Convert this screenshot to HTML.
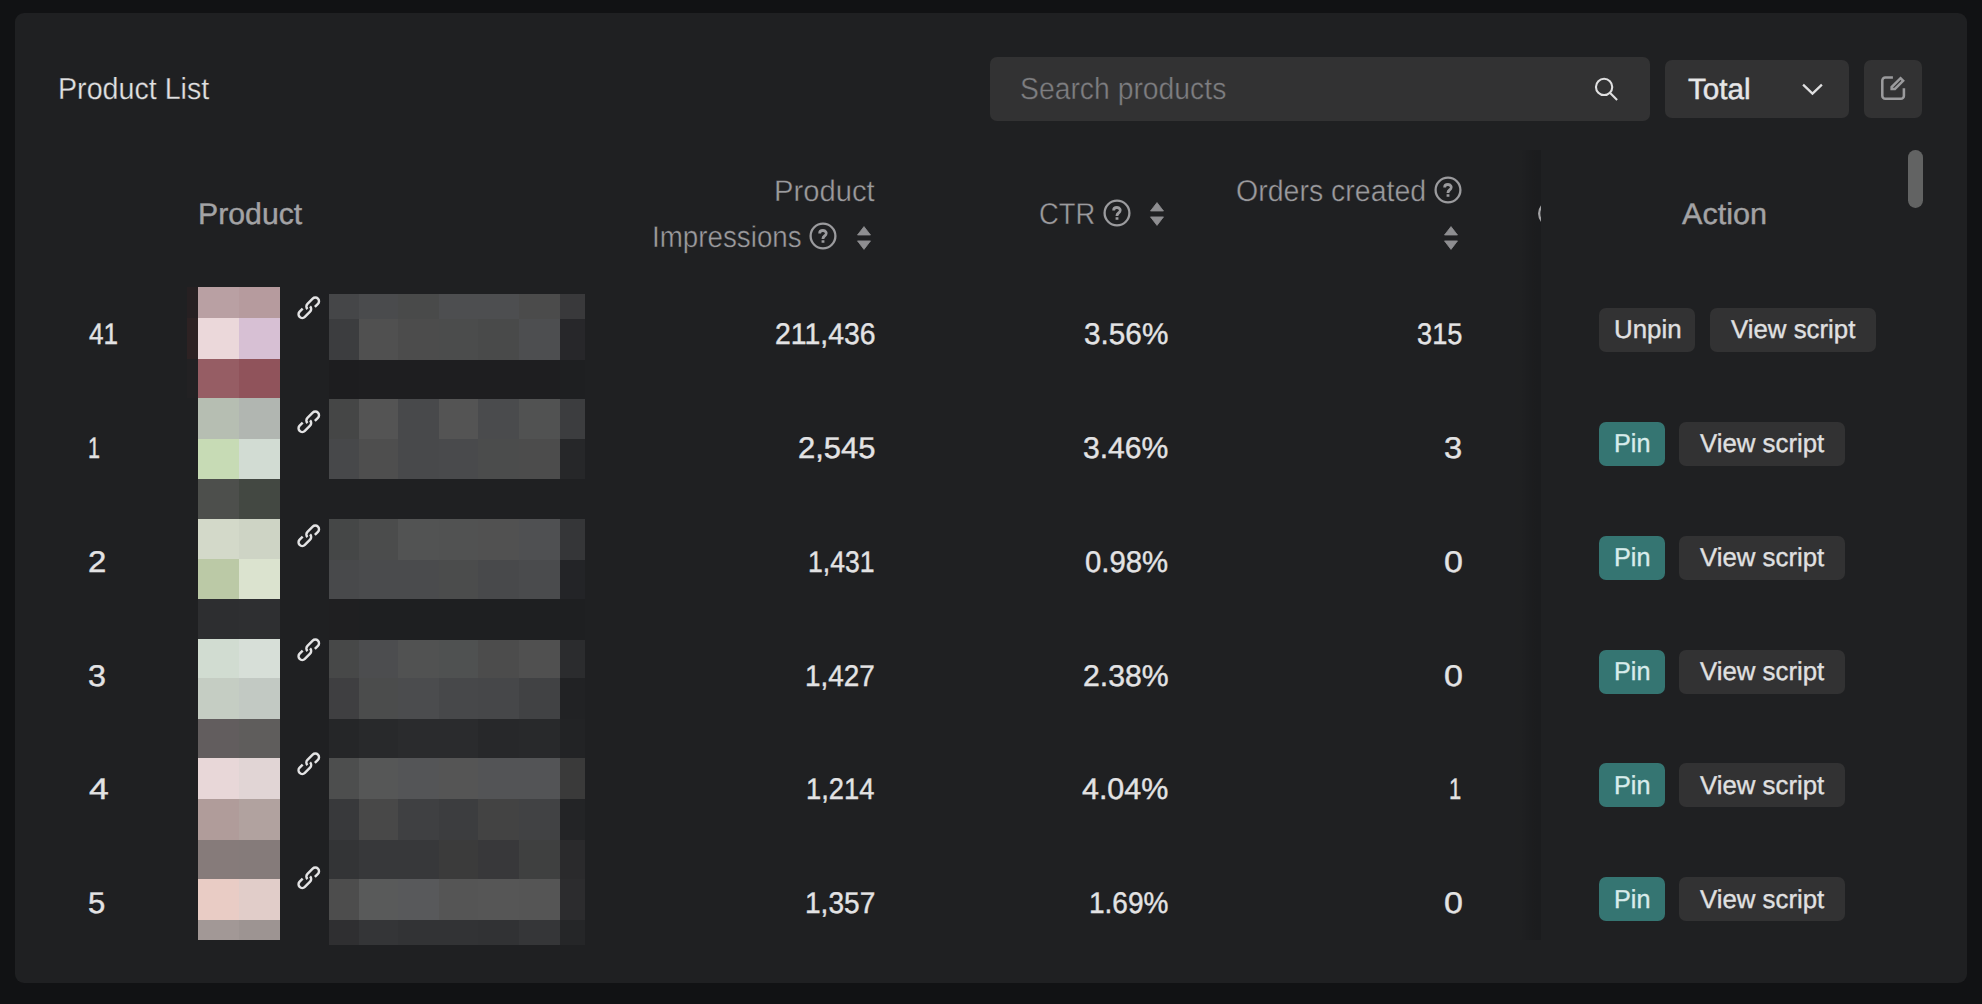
<!DOCTYPE html>
<html lang="en"><head><meta charset="utf-8"><title>Product List</title>
<style>html,body{margin:0;padding:0}
body{width:1982px;height:1004px;background:#111214;position:relative;overflow:hidden;font-family:"Liberation Sans",sans-serif}
.card{position:absolute;left:14.7px;top:13.3px;width:1952.1px;height:969.3px;background:#1f2022;border-radius:9px}
.t{position:absolute;white-space:nowrap;line-height:1;transform-origin:0 0;text-rendering:geometricPrecision}
.b{position:absolute;border-radius:7px}
.m{position:absolute}
svg{position:absolute;overflow:visible}
</style></head><body>
<div class="card"></div>
<div class="b" style="left:989.6px;top:57.2px;width:660.4px;height:63.7px;background:#323233;border-radius:7px"></div>
<div class="b" style="left:1665.4px;top:60.2px;width:183.6px;height:58.1px;background:#323233;border-radius:7px"></div>
<div class="b" style="left:1863.8px;top:59.7px;width:58.6px;height:58.7px;background:#323233;border-radius:7px"></div>
<svg style="left:1590px;top:74px" width="32" height="32" viewBox="1590 74 32 32" fill="none" stroke="#e0e0e1" stroke-width="2.1"><circle cx="1604.1" cy="86.9" r="8.15"/><path d="M1609.9 92.7 L1617.1 99.9"/></svg>
<svg style="left:1800px;top:80px" width="26" height="20" viewBox="0 0 26 20" fill="none" stroke="#e0e0e1" stroke-width="2.3"><path d="M3.1 4.6 L12.5 13.6 L21.9 4.6"/></svg>
<svg style="left:1876px;top:72px" width="34" height="34" viewBox="1876 72 34 34" fill="none" stroke="#9b9b9d" stroke-width="2.55" stroke-linecap="butt" stroke-linejoin="miter"><path d="M1892.9 77.55 H1885.3 a3 3 0 0 0 -3 3 V95.7 a3 3 0 0 0 3 3 H1900.9 a3 3 0 0 0 3 -3 V88.2"/><path d="M1900.5 78.2 L1903.1 80.8 L1894.9 89.0 H1891.65 V87.05 Z"/></svg>
<svg style="left:807.30px;top:220.45px" width="32" height="32" viewBox="-16 -16 32 32" fill="none" stroke="#9b9b9e"><circle cx="0" cy="0" r="12.40" stroke-width="2.3"/><path transform="scale(0.615) translate(-24 -24)" stroke-width="4.6" d="M24.006 31v4.008m0-6.008L24 28c0-3 3-4 4.78-6.402C30.558 19.195 28.288 15 23.987 15c-4.014 0-5.382 2.548-5.388 4.514v.465"/></svg>
<svg style="left:1101.20px;top:196.60px" width="32" height="32" viewBox="-16 -16 32 32" fill="none" stroke="#9b9b9e"><circle cx="0" cy="0" r="12.40" stroke-width="2.3"/><path transform="scale(0.615) translate(-24 -24)" stroke-width="4.6" d="M24.006 31v4.008m0-6.008L24 28c0-3 3-4 4.78-6.402C30.558 19.195 28.288 15 23.987 15c-4.014 0-5.382 2.548-5.388 4.514v.465"/></svg>
<svg style="left:1432.00px;top:173.50px" width="32" height="32" viewBox="-16 -16 32 32" fill="none" stroke="#9b9b9e"><circle cx="0" cy="0" r="12.40" stroke-width="2.3"/><path transform="scale(0.615) translate(-24 -24)" stroke-width="4.6" d="M24.006 31v4.008m0-6.008L24 28c0-3 3-4 4.78-6.402C30.558 19.195 28.288 15 23.987 15c-4.014 0-5.382 2.548-5.388 4.514v.465"/></svg>
<svg style="left:856.70px;top:225.70px" width="14.0" height="24.2" viewBox="0 0 14.0 24.2" fill="#8e8e91" stroke="#8e8e91" stroke-width="0.8" stroke-linejoin="round"><path d="M7.0 0.6 L13.5 9.0 H0.5 Z"/><path d="M0.5 14.9 H13.5 L7.0 23.4 Z"/></svg>
<svg style="left:1150.30px;top:201.90px" width="14.0" height="24.2" viewBox="0 0 14.0 24.2" fill="#8e8e91" stroke="#8e8e91" stroke-width="0.8" stroke-linejoin="round"><path d="M7.0 0.6 L13.5 9.0 H0.5 Z"/><path d="M0.5 14.9 H13.5 L7.0 23.4 Z"/></svg>
<svg style="left:1444.45px;top:225.80px" width="14.0" height="24.2" viewBox="0 0 14.0 24.2" fill="#8e8e91" stroke="#8e8e91" stroke-width="0.8" stroke-linejoin="round"><path d="M7.0 0.6 L13.5 9.0 H0.5 Z"/><path d="M0.5 14.9 H13.5 L7.0 23.4 Z"/></svg>
<svg style="left:293.73px;top:293.35px" width="29.55" height="29.55" viewBox="0 0 48 48" fill="none" stroke="#e3e3e4" stroke-width="4"><path d="M14.1 25.414l-4.95 4.95a6 6 0 0 0 8.486 8.485l8.485-8.485a6 6 0 0 0 0-8.485m7.779.707l4.95-4.95a6 6 0 1 0-8.486-8.485l-8.485 8.485a6 6 0 0 0 0 8.485"/></svg>
<svg style="left:293.73px;top:407.22px" width="29.55" height="29.55" viewBox="0 0 48 48" fill="none" stroke="#e3e3e4" stroke-width="4"><path d="M14.1 25.414l-4.95 4.95a6 6 0 0 0 8.486 8.485l8.485-8.485a6 6 0 0 0 0-8.485m7.779.707l4.95-4.95a6 6 0 1 0-8.486-8.485l-8.485 8.485a6 6 0 0 0 0 8.485"/></svg>
<svg style="left:293.73px;top:521.09px" width="29.55" height="29.55" viewBox="0 0 48 48" fill="none" stroke="#e3e3e4" stroke-width="4"><path d="M14.1 25.414l-4.95 4.95a6 6 0 0 0 8.486 8.485l8.485-8.485a6 6 0 0 0 0-8.485m7.779.707l4.95-4.95a6 6 0 1 0-8.486-8.485l-8.485 8.485a6 6 0 0 0 0 8.485"/></svg>
<svg style="left:293.73px;top:634.96px" width="29.55" height="29.55" viewBox="0 0 48 48" fill="none" stroke="#e3e3e4" stroke-width="4"><path d="M14.1 25.414l-4.95 4.95a6 6 0 0 0 8.486 8.485l8.485-8.485a6 6 0 0 0 0-8.485m7.779.707l4.95-4.95a6 6 0 1 0-8.486-8.485l-8.485 8.485a6 6 0 0 0 0 8.485"/></svg>
<svg style="left:293.73px;top:748.83px" width="29.55" height="29.55" viewBox="0 0 48 48" fill="none" stroke="#e3e3e4" stroke-width="4"><path d="M14.1 25.414l-4.95 4.95a6 6 0 0 0 8.486 8.485l8.485-8.485a6 6 0 0 0 0-8.485m7.779.707l4.95-4.95a6 6 0 1 0-8.486-8.485l-8.485 8.485a6 6 0 0 0 0 8.485"/></svg>
<svg style="left:293.73px;top:862.70px" width="29.55" height="29.55" viewBox="0 0 48 48" fill="none" stroke="#e3e3e4" stroke-width="4"><path d="M14.1 25.414l-4.95 4.95a6 6 0 0 0 8.486 8.485l8.485-8.485a6 6 0 0 0 0-8.485m7.779.707l4.95-4.95a6 6 0 1 0-8.486-8.485l-8.485 8.485a6 6 0 0 0 0 8.485"/></svg>
<div class="m" style="left:1491px;top:150px;width:50px;height:790px;background:linear-gradient(90deg,rgba(0,0,0,0) 0%,rgba(0,0,0,0.012) 2%,rgba(0,0,0,0.016) 62%,rgba(0,0,0,0.11) 83%,rgba(0,0,0,0.135) 100%)"></div>
<div class="m" style="left:1530px;top:195px;width:11px;height:40px;overflow:hidden"><svg style="left:7.9px;top:4.7px" width="27.2" height="27.2" viewBox="0 0 27.2 27.2" fill="none" stroke="#a3a3a5" stroke-width="2.3"><circle cx="13.6" cy="13.6" r="12.4"/></svg></div>
<div class="m" style="left:1907.9px;top:150.4px;width:14.7px;height:57.8px;background:#626363;border-radius:7.4px"></div>
<div class="m" style="left:187px;top:286.8px;width:12px;height:32.2px;background:#262022"></div>
<div class="m" style="left:187px;top:318px;width:12px;height:42.0px;background:#2d2223"></div>
<div class="m" style="left:187px;top:359px;width:12px;height:39.0px;background:#222123"></div>
<div class="m" style="left:198px;top:286.8px;width:42.0px;height:32.2px;background:#b9a0a3"></div>
<div class="m" style="left:239px;top:286.8px;width:41.0px;height:32.2px;background:#b69b9e"></div>
<div class="m" style="left:198px;top:318px;width:42.0px;height:42.0px;background:#ebd8da"></div>
<div class="m" style="left:239px;top:318px;width:41.0px;height:42.0px;background:#d7c0d4"></div>
<div class="m" style="left:198px;top:359px;width:42.0px;height:40.0px;background:#965d64"></div>
<div class="m" style="left:239px;top:359px;width:41.0px;height:40.0px;background:#90535b"></div>
<div class="m" style="left:198px;top:398px;width:42.0px;height:41.5px;background:#b6beb2"></div>
<div class="m" style="left:239px;top:398px;width:41.0px;height:41.5px;background:#b1b6b1"></div>
<div class="m" style="left:198px;top:438.5px;width:42.0px;height:41.0px;background:#c7dbb5"></div>
<div class="m" style="left:239px;top:438.5px;width:41.0px;height:41.0px;background:#d2dcd3"></div>
<div class="m" style="left:198px;top:478.5px;width:42.0px;height:41.0px;background:#4d4f4c"></div>
<div class="m" style="left:239px;top:478.5px;width:41.0px;height:41.0px;background:#434842"></div>
<div class="m" style="left:198px;top:518.5px;width:42.0px;height:41.5px;background:#d3d9c9"></div>
<div class="m" style="left:239px;top:518.5px;width:41.0px;height:41.5px;background:#ced4c5"></div>
<div class="m" style="left:198px;top:559px;width:42.0px;height:41.0px;background:#bbc9a6"></div>
<div class="m" style="left:239px;top:559px;width:41.0px;height:41.0px;background:#dbe3cf"></div>
<div class="m" style="left:198px;top:599px;width:42.0px;height:41.0px;background:#2d2e30"></div>
<div class="m" style="left:239px;top:599px;width:41.0px;height:41.0px;background:#2e2f31"></div>
<div class="m" style="left:198px;top:639px;width:42.0px;height:40.3px;background:#d1dcd1"></div>
<div class="m" style="left:239px;top:639px;width:41.0px;height:40.3px;background:#d7dfd8"></div>
<div class="m" style="left:198px;top:678.3px;width:42.0px;height:42.0px;background:#c5cdc3"></div>
<div class="m" style="left:239px;top:678.3px;width:41.0px;height:42.0px;background:#c2c9c3"></div>
<div class="m" style="left:198px;top:719.3px;width:42.0px;height:39.9px;background:#625d5e"></div>
<div class="m" style="left:239px;top:719.3px;width:41.0px;height:39.9px;background:#5f5d5c"></div>
<div class="m" style="left:198px;top:758.2px;width:42.0px;height:42.0px;background:#e8d7d8"></div>
<div class="m" style="left:239px;top:758.2px;width:41.0px;height:42.0px;background:#e1d5d5"></div>
<div class="m" style="left:198px;top:799.2px;width:42.0px;height:41.4px;background:#b09c9a"></div>
<div class="m" style="left:239px;top:799.2px;width:41.0px;height:41.4px;background:#b1a29f"></div>
<div class="m" style="left:198px;top:839.6px;width:42.0px;height:40.4px;background:#867b7a"></div>
<div class="m" style="left:239px;top:839.6px;width:41.0px;height:40.4px;background:#857b7a"></div>
<div class="m" style="left:198px;top:879px;width:42.0px;height:41.7px;background:#e9ccc5"></div>
<div class="m" style="left:239px;top:879px;width:41.0px;height:41.7px;background:#e1cdc9"></div>
<div class="m" style="left:198px;top:919.7px;width:42.0px;height:20.3px;background:#a29896"></div>
<div class="m" style="left:239px;top:919.7px;width:41.0px;height:20.3px;background:#9d9492"></div>
<div class="m" style="left:329.1px;top:294px;width:30.7px;height:26.0px;background:#454648"></div>
<div class="m" style="left:358.8px;top:294px;width:40.2px;height:26.0px;background:#4a4b4d"></div>
<div class="m" style="left:398px;top:294px;width:41.7px;height:26.0px;background:#494a4a"></div>
<div class="m" style="left:438.7px;top:294px;width:40.3px;height:26.0px;background:#4d4e50"></div>
<div class="m" style="left:478px;top:294px;width:41.8px;height:26.0px;background:#4d4e50"></div>
<div class="m" style="left:518.8px;top:294px;width:42.1px;height:26.0px;background:#4b4b4b"></div>
<div class="m" style="left:559.9px;top:294px;width:25.1px;height:26.0px;background:#39393b"></div>
<div class="m" style="left:329.1px;top:319px;width:30.7px;height:41.5px;background:#3c3d3f"></div>
<div class="m" style="left:358.8px;top:319px;width:40.2px;height:41.5px;background:#505050"></div>
<div class="m" style="left:398px;top:319px;width:41.7px;height:41.5px;background:#4c4c4c"></div>
<div class="m" style="left:438.7px;top:319px;width:40.3px;height:41.5px;background:#4b4c4c"></div>
<div class="m" style="left:478px;top:319px;width:41.8px;height:41.5px;background:#494a4a"></div>
<div class="m" style="left:518.8px;top:319px;width:42.1px;height:41.5px;background:#4d4e50"></div>
<div class="m" style="left:559.9px;top:319px;width:25.1px;height:41.5px;background:#27272a"></div>
<div class="m" style="left:329.1px;top:359.5px;width:30.7px;height:40.2px;background:#1d1d1f"></div>
<div class="m" style="left:358.8px;top:359.5px;width:40.2px;height:40.2px;background:#1e1e20"></div>
<div class="m" style="left:398px;top:359.5px;width:41.7px;height:40.2px;background:#1e1e20"></div>
<div class="m" style="left:438.7px;top:359.5px;width:40.3px;height:40.2px;background:#1e1e20"></div>
<div class="m" style="left:478px;top:359.5px;width:41.8px;height:40.2px;background:#1e1e20"></div>
<div class="m" style="left:518.8px;top:359.5px;width:42.1px;height:40.2px;background:#1e1e20"></div>
<div class="m" style="left:559.9px;top:359.5px;width:25.1px;height:40.2px;background:#1e1f21"></div>
<div class="m" style="left:329.1px;top:398.7px;width:30.7px;height:41.3px;background:#454646"></div>
<div class="m" style="left:358.8px;top:398.7px;width:40.2px;height:41.3px;background:#545454"></div>
<div class="m" style="left:398px;top:398.7px;width:41.7px;height:41.3px;background:#48494b"></div>
<div class="m" style="left:438.7px;top:398.7px;width:40.3px;height:41.3px;background:#545454"></div>
<div class="m" style="left:478px;top:398.7px;width:41.8px;height:41.3px;background:#4a4b4d"></div>
<div class="m" style="left:518.8px;top:398.7px;width:42.1px;height:41.3px;background:#515252"></div>
<div class="m" style="left:559.9px;top:398.7px;width:25.1px;height:41.3px;background:#3c3d3f"></div>
<div class="m" style="left:329.1px;top:439px;width:30.7px;height:40.6px;background:#47484a"></div>
<div class="m" style="left:358.8px;top:439px;width:40.2px;height:40.6px;background:#4e4e4e"></div>
<div class="m" style="left:398px;top:439px;width:41.7px;height:40.6px;background:#48494b"></div>
<div class="m" style="left:438.7px;top:439px;width:40.3px;height:40.6px;background:#494a4c"></div>
<div class="m" style="left:478px;top:439px;width:41.8px;height:40.6px;background:#4b4c4c"></div>
<div class="m" style="left:518.8px;top:439px;width:42.1px;height:40.6px;background:#4c4c4c"></div>
<div class="m" style="left:559.9px;top:439px;width:25.1px;height:40.6px;background:#262729"></div>
<div class="m" style="left:329.1px;top:478.6px;width:30.7px;height:41.7px;background:#1f2022"></div>
<div class="m" style="left:358.8px;top:478.6px;width:40.2px;height:41.7px;background:#1f2022"></div>
<div class="m" style="left:398px;top:478.6px;width:41.7px;height:41.7px;background:#1f2022"></div>
<div class="m" style="left:438.7px;top:478.6px;width:40.3px;height:41.7px;background:#1f2022"></div>
<div class="m" style="left:478px;top:478.6px;width:41.8px;height:41.7px;background:#1f2022"></div>
<div class="m" style="left:518.8px;top:478.6px;width:42.1px;height:41.7px;background:#1f2022"></div>
<div class="m" style="left:559.9px;top:478.6px;width:25.1px;height:41.7px;background:#1f2022"></div>
<div class="m" style="left:329.1px;top:519.3px;width:30.7px;height:41.5px;background:#454747"></div>
<div class="m" style="left:358.8px;top:519.3px;width:40.2px;height:41.5px;background:#4b4c4c"></div>
<div class="m" style="left:398px;top:519.3px;width:41.7px;height:41.5px;background:#525353"></div>
<div class="m" style="left:438.7px;top:519.3px;width:40.3px;height:41.5px;background:#515252"></div>
<div class="m" style="left:478px;top:519.3px;width:41.8px;height:41.5px;background:#515151"></div>
<div class="m" style="left:518.8px;top:519.3px;width:42.1px;height:41.5px;background:#4f5052"></div>
<div class="m" style="left:559.9px;top:519.3px;width:25.1px;height:41.5px;background:#353638"></div>
<div class="m" style="left:329.1px;top:559.8px;width:30.7px;height:40.2px;background:#48494b"></div>
<div class="m" style="left:358.8px;top:559.8px;width:40.2px;height:40.2px;background:#4a4b4d"></div>
<div class="m" style="left:398px;top:559.8px;width:41.7px;height:40.2px;background:#4a4b4d"></div>
<div class="m" style="left:438.7px;top:559.8px;width:40.3px;height:40.2px;background:#4b4c4c"></div>
<div class="m" style="left:478px;top:559.8px;width:41.8px;height:40.2px;background:#48494b"></div>
<div class="m" style="left:518.8px;top:559.8px;width:42.1px;height:40.2px;background:#4a4b4d"></div>
<div class="m" style="left:559.9px;top:559.8px;width:25.1px;height:40.2px;background:#232427"></div>
<div class="m" style="left:329.1px;top:599px;width:30.7px;height:41.8px;background:#1f1f21"></div>
<div class="m" style="left:358.8px;top:599px;width:40.2px;height:41.8px;background:#1e1f21"></div>
<div class="m" style="left:398px;top:599px;width:41.7px;height:41.8px;background:#1e1f21"></div>
<div class="m" style="left:438.7px;top:599px;width:40.3px;height:41.8px;background:#1e1f21"></div>
<div class="m" style="left:478px;top:599px;width:41.8px;height:41.8px;background:#1e1f21"></div>
<div class="m" style="left:518.8px;top:599px;width:42.1px;height:41.8px;background:#1e1f21"></div>
<div class="m" style="left:559.9px;top:599px;width:25.1px;height:41.8px;background:#1e1f21"></div>
<div class="m" style="left:329.1px;top:639.8px;width:30.7px;height:39.5px;background:#474848"></div>
<div class="m" style="left:358.8px;top:639.8px;width:40.2px;height:39.5px;background:#4c4d4f"></div>
<div class="m" style="left:398px;top:639.8px;width:41.7px;height:39.5px;background:#515252"></div>
<div class="m" style="left:438.7px;top:639.8px;width:40.3px;height:39.5px;background:#4f5151"></div>
<div class="m" style="left:478px;top:639.8px;width:41.8px;height:39.5px;background:#4c4c4c"></div>
<div class="m" style="left:518.8px;top:639.8px;width:42.1px;height:39.5px;background:#505050"></div>
<div class="m" style="left:559.9px;top:639.8px;width:25.1px;height:39.5px;background:#2b2c2e"></div>
<div class="m" style="left:329.1px;top:678.3px;width:30.7px;height:42.0px;background:#3f3f41"></div>
<div class="m" style="left:358.8px;top:678.3px;width:40.2px;height:42.0px;background:#4b4c4c"></div>
<div class="m" style="left:398px;top:678.3px;width:41.7px;height:42.0px;background:#4b4c4e"></div>
<div class="m" style="left:438.7px;top:678.3px;width:40.3px;height:42.0px;background:#47484a"></div>
<div class="m" style="left:478px;top:678.3px;width:41.8px;height:42.0px;background:#464749"></div>
<div class="m" style="left:518.8px;top:678.3px;width:42.1px;height:42.0px;background:#414244"></div>
<div class="m" style="left:559.9px;top:678.3px;width:25.1px;height:42.0px;background:#212224"></div>
<div class="m" style="left:329.1px;top:719.3px;width:30.7px;height:39.9px;background:#252628"></div>
<div class="m" style="left:358.8px;top:719.3px;width:40.2px;height:39.9px;background:#28292b"></div>
<div class="m" style="left:398px;top:719.3px;width:41.7px;height:39.9px;background:#2a2b2d"></div>
<div class="m" style="left:438.7px;top:719.3px;width:40.3px;height:39.9px;background:#2a2b2d"></div>
<div class="m" style="left:478px;top:719.3px;width:41.8px;height:39.9px;background:#27282a"></div>
<div class="m" style="left:518.8px;top:719.3px;width:42.1px;height:39.9px;background:#28292b"></div>
<div class="m" style="left:559.9px;top:719.3px;width:25.1px;height:39.9px;background:#222325"></div>
<div class="m" style="left:329.1px;top:758.2px;width:30.7px;height:42.1px;background:#4d4e4e"></div>
<div class="m" style="left:358.8px;top:758.2px;width:40.2px;height:42.1px;background:#565757"></div>
<div class="m" style="left:398px;top:758.2px;width:41.7px;height:42.1px;background:#545557"></div>
<div class="m" style="left:438.7px;top:758.2px;width:40.3px;height:42.1px;background:#555555"></div>
<div class="m" style="left:478px;top:758.2px;width:41.8px;height:42.1px;background:#535456"></div>
<div class="m" style="left:518.8px;top:758.2px;width:42.1px;height:42.1px;background:#535456"></div>
<div class="m" style="left:559.9px;top:758.2px;width:25.1px;height:42.1px;background:#3a3a3a"></div>
<div class="m" style="left:329.1px;top:799.3px;width:30.7px;height:41.3px;background:#38393b"></div>
<div class="m" style="left:358.8px;top:799.3px;width:40.2px;height:41.3px;background:#484848"></div>
<div class="m" style="left:398px;top:799.3px;width:41.7px;height:41.3px;background:#3f4042"></div>
<div class="m" style="left:438.7px;top:799.3px;width:40.3px;height:41.3px;background:#3c3d3f"></div>
<div class="m" style="left:478px;top:799.3px;width:41.8px;height:41.3px;background:#434343"></div>
<div class="m" style="left:518.8px;top:799.3px;width:42.1px;height:41.3px;background:#414244"></div>
<div class="m" style="left:559.9px;top:799.3px;width:25.1px;height:41.3px;background:#232426"></div>
<div class="m" style="left:329.1px;top:839.6px;width:30.7px;height:40.6px;background:#333436"></div>
<div class="m" style="left:358.8px;top:839.6px;width:40.2px;height:40.6px;background:#37383a"></div>
<div class="m" style="left:398px;top:839.6px;width:41.7px;height:40.6px;background:#37383a"></div>
<div class="m" style="left:438.7px;top:839.6px;width:40.3px;height:40.6px;background:#3b3b3b"></div>
<div class="m" style="left:478px;top:839.6px;width:41.8px;height:40.6px;background:#38383a"></div>
<div class="m" style="left:518.8px;top:839.6px;width:42.1px;height:40.6px;background:#3f4040"></div>
<div class="m" style="left:559.9px;top:839.6px;width:25.1px;height:40.6px;background:#2a2a2c"></div>
<div class="m" style="left:329.1px;top:879.2px;width:30.7px;height:41.6px;background:#4d4d4d"></div>
<div class="m" style="left:358.8px;top:879.2px;width:40.2px;height:41.6px;background:#595a5a"></div>
<div class="m" style="left:398px;top:879.2px;width:41.7px;height:41.6px;background:#58595b"></div>
<div class="m" style="left:438.7px;top:879.2px;width:40.3px;height:41.6px;background:#555555"></div>
<div class="m" style="left:478px;top:879.2px;width:41.8px;height:41.6px;background:#565656"></div>
<div class="m" style="left:518.8px;top:879.2px;width:42.1px;height:41.6px;background:#555555"></div>
<div class="m" style="left:559.9px;top:879.2px;width:25.1px;height:41.6px;background:#2c2c2e"></div>
<div class="m" style="left:329.1px;top:919.8px;width:30.7px;height:25.2px;background:#2f2f31"></div>
<div class="m" style="left:358.8px;top:919.8px;width:40.2px;height:25.2px;background:#343537"></div>
<div class="m" style="left:398px;top:919.8px;width:41.7px;height:25.2px;background:#323335"></div>
<div class="m" style="left:438.7px;top:919.8px;width:40.3px;height:25.2px;background:#323335"></div>
<div class="m" style="left:478px;top:919.8px;width:41.8px;height:25.2px;background:#313234"></div>
<div class="m" style="left:518.8px;top:919.8px;width:42.1px;height:25.2px;background:#353638"></div>
<div class="m" style="left:559.9px;top:919.8px;width:25.1px;height:25.2px;background:#252628"></div>
<div class="b" style="left:1599.0px;top:307.9px;width:96.0px;height:44.1px;background:#323233"></div>
<div class="b" style="left:1709.8px;top:307.9px;width:166.1px;height:44.1px;background:#323233"></div>
<div class="b" style="left:1599.2px;top:421.8px;width:65.4px;height:44.1px;background:#357572"></div>
<div class="b" style="left:1679.1px;top:421.8px;width:166.1px;height:44.1px;background:#323233"></div>
<div class="b" style="left:1599.2px;top:535.6px;width:65.4px;height:44.1px;background:#357572"></div>
<div class="b" style="left:1679.1px;top:535.6px;width:166.1px;height:44.1px;background:#323233"></div>
<div class="b" style="left:1599.2px;top:649.5px;width:65.4px;height:44.1px;background:#357572"></div>
<div class="b" style="left:1679.1px;top:649.5px;width:166.1px;height:44.1px;background:#323233"></div>
<div class="b" style="left:1599.2px;top:763.4px;width:65.4px;height:44.1px;background:#357572"></div>
<div class="b" style="left:1679.1px;top:763.4px;width:166.1px;height:44.1px;background:#323233"></div>
<div class="b" style="left:1599.2px;top:877.2px;width:65.4px;height:44.1px;background:#357572"></div>
<div class="b" style="left:1679.1px;top:877.2px;width:166.1px;height:44.1px;background:#323233"></div>
<div class="t" style="left:57.7px;top:74px;font-size:30.52px;color:#e0e0e1;-webkit-text-stroke:0.3px #1f2022;transform:scaleX(0.9388)">Product List</div>
<div class="t" style="left:1020.0px;top:74px;font-size:30.52px;color:#7e7e81;-webkit-text-stroke:0.4px #323233;transform:scaleX(0.9285)">Search products</div>
<div class="t" style="left:1687.6px;top:75px;font-size:29.29px;color:#e6e6e7;-webkit-text-stroke:0.45px #e6e6e7;transform:scaleX(1.0127)">Total</div>
<div class="t" style="left:197.89px;top:200px;font-size:29.94px;color:#a3a3a5;-webkit-text-stroke:0.4px #a3a3a5;transform:scaleX(1.0101)">Product</div>
<div class="t" style="left:773.88px;top:177px;font-size:29.8px;color:#9b9b9e;-webkit-text-stroke:0.4px #1f2022;transform:scaleX(0.9795)">Product</div>
<div class="t" style="left:651.7px;top:223px;font-size:30.09px;color:#9b9b9e;-webkit-text-stroke:0.4px #1f2022;transform:scaleX(0.9233)">Impressions</div>
<div class="t" style="left:1039.19px;top:200px;font-size:30.09px;color:#9b9b9e;-webkit-text-stroke:0.4px #1f2022;transform:scaleX(0.9088)">CTR</div>
<div class="t" style="left:1236.1px;top:177px;font-size:30.09px;color:#9b9b9e;-webkit-text-stroke:0.4px #1f2022;transform:scaleX(0.9481)">Orders created</div>
<div class="t" style="left:1682.18px;top:200px;font-size:29.94px;color:#a3a3a5;-webkit-text-stroke:0.4px #a3a3a5;transform:scaleX(1.0226)">Action</div>
<div class="t" style="left:88.58px;top:320px;font-size:29.94px;color:#e3e3e4;-webkit-text-stroke:0.4px #e3e3e4;transform:scaleX(0.8731)">41</div>
<div class="t" style="left:774.54px;top:320px;font-size:29.94px;color:#e3e3e4;-webkit-text-stroke:0.4px #e3e3e4;transform:scaleX(0.9485)">211,436</div>
<div class="t" style="left:1084.05px;top:320px;font-size:29.94px;color:#e3e3e4;-webkit-text-stroke:0.4px #e3e3e4;transform:scaleX(0.9936)">3.56%</div>
<div class="t" style="left:1417.13px;top:320px;font-size:29.94px;color:#e3e3e4;-webkit-text-stroke:0.4px #e3e3e4;transform:scaleX(0.9096)">315</div>
<div class="t" style="left:87.86px;top:434px;font-size:29.94px;color:#e3e3e4;-webkit-text-stroke:0.4px #e3e3e4;transform:scaleX(0.718)">1</div>
<div class="t" style="left:797.55px;top:434px;font-size:29.94px;color:#e3e3e4;-webkit-text-stroke:0.4px #e3e3e4;transform:scaleX(1.0347)">2,545</div>
<div class="t" style="left:1083.03px;top:434px;font-size:29.94px;color:#e3e3e4;-webkit-text-stroke:0.4px #e3e3e4;transform:scaleX(1.0056)">3.46%</div>
<div class="t" style="left:1444.45px;top:434px;font-size:29.94px;color:#e3e3e4;-webkit-text-stroke:0.4px #e3e3e4;transform:scaleX(1.0919)">3</div>
<div class="t" style="left:87.57px;top:548px;font-size:29.94px;color:#e3e3e4;-webkit-text-stroke:0.4px #e3e3e4;transform:scaleX(1.1003)">2</div>
<div class="t" style="left:808.42px;top:548px;font-size:29.94px;color:#e3e3e4;-webkit-text-stroke:0.4px #e3e3e4;transform:scaleX(0.8881)">1,431</div>
<div class="t" style="left:1085.22px;top:548px;font-size:29.94px;color:#e3e3e4;-webkit-text-stroke:0.4px #e3e3e4;transform:scaleX(0.9796)">0.98%</div>
<div class="t" style="left:1443.67px;top:548px;font-size:29.94px;color:#e3e3e4;-webkit-text-stroke:0.4px #e3e3e4;transform:scaleX(1.1343)">0</div>
<div class="t" style="left:87.76px;top:662px;font-size:29.94px;color:#e3e3e4;-webkit-text-stroke:0.4px #e3e3e4;transform:scaleX(1.0783)">3</div>
<div class="t" style="left:805.34px;top:662px;font-size:29.94px;color:#e3e3e4;-webkit-text-stroke:0.4px #e3e3e4;transform:scaleX(0.9305)">1,427</div>
<div class="t" style="left:1082.77px;top:662px;font-size:29.94px;color:#e3e3e4;-webkit-text-stroke:0.4px #e3e3e4;transform:scaleX(1.0087)">2.38%</div>
<div class="t" style="left:1443.67px;top:662px;font-size:29.94px;color:#e3e3e4;-webkit-text-stroke:0.4px #e3e3e4;transform:scaleX(1.1343)">0</div>
<div class="t" style="left:88.5px;top:775px;font-size:29.94px;color:#e3e3e4;-webkit-text-stroke:0.4px #e3e3e4;transform:scaleX(1.1878)">4</div>
<div class="t" style="left:806.17px;top:775px;font-size:29.94px;color:#e3e3e4;-webkit-text-stroke:0.4px #e3e3e4;transform:scaleX(0.9125)">1,214</div>
<div class="t" style="left:1082.14px;top:775px;font-size:29.94px;color:#e3e3e4;-webkit-text-stroke:0.4px #e3e3e4;transform:scaleX(1.0163)">4.04%</div>
<div class="t" style="left:1449.03px;top:775px;font-size:29.94px;color:#e3e3e4;-webkit-text-stroke:0.4px #e3e3e4;transform:scaleX(0.7326)">1</div>
<div class="t" style="left:87.63px;top:889px;font-size:29.94px;color:#e3e3e4;-webkit-text-stroke:0.4px #e3e3e4;transform:scaleX(1.0384)">5</div>
<div class="t" style="left:804.83px;top:889px;font-size:29.94px;color:#e3e3e4;-webkit-text-stroke:0.4px #e3e3e4;transform:scaleX(0.9375)">1,357</div>
<div class="t" style="left:1088.93px;top:889px;font-size:29.94px;color:#e3e3e4;-webkit-text-stroke:0.4px #e3e3e4;transform:scaleX(0.9354)">1.69%</div>
<div class="t" style="left:1443.67px;top:889px;font-size:29.94px;color:#e3e3e4;-webkit-text-stroke:0.4px #e3e3e4;transform:scaleX(1.1343)">0</div>
<div class="t" style="left:1613.56px;top:318px;font-size:25.94px;color:#e0e0e1;-webkit-text-stroke:0.35px #e0e0e1;transform:scaleX(0.997)">Unpin</div>
<div class="t" style="left:1730.85px;top:318px;font-size:25.94px;color:#e0e0e1;-webkit-text-stroke:0.35px #e0e0e1;transform:scaleX(0.995)">View script</div>
<div class="t" style="left:1613.55px;top:432px;font-size:25.94px;color:#d9eceb;-webkit-text-stroke:0.35px #d9eceb;transform:scaleX(0.971)">Pin</div>
<div class="t" style="left:1699.95px;top:432px;font-size:25.94px;color:#e0e0e1;-webkit-text-stroke:0.35px #e0e0e1;transform:scaleX(0.9942)">View script</div>
<div class="t" style="left:1613.55px;top:546px;font-size:25.94px;color:#d9eceb;-webkit-text-stroke:0.35px #d9eceb;transform:scaleX(0.971)">Pin</div>
<div class="t" style="left:1699.95px;top:546px;font-size:25.94px;color:#e0e0e1;-webkit-text-stroke:0.35px #e0e0e1;transform:scaleX(0.9942)">View script</div>
<div class="t" style="left:1613.55px;top:660px;font-size:25.94px;color:#d9eceb;-webkit-text-stroke:0.35px #d9eceb;transform:scaleX(0.971)">Pin</div>
<div class="t" style="left:1699.95px;top:660px;font-size:25.94px;color:#e0e0e1;-webkit-text-stroke:0.35px #e0e0e1;transform:scaleX(0.9942)">View script</div>
<div class="t" style="left:1613.55px;top:774px;font-size:25.94px;color:#d9eceb;-webkit-text-stroke:0.35px #d9eceb;transform:scaleX(0.971)">Pin</div>
<div class="t" style="left:1699.95px;top:774px;font-size:25.94px;color:#e0e0e1;-webkit-text-stroke:0.35px #e0e0e1;transform:scaleX(0.9942)">View script</div>
<div class="t" style="left:1613.55px;top:888px;font-size:25.94px;color:#d9eceb;-webkit-text-stroke:0.35px #d9eceb;transform:scaleX(0.971)">Pin</div>
<div class="t" style="left:1699.95px;top:888px;font-size:25.94px;color:#e0e0e1;-webkit-text-stroke:0.35px #e0e0e1;transform:scaleX(0.9942)">View script</div>
</body></html>
